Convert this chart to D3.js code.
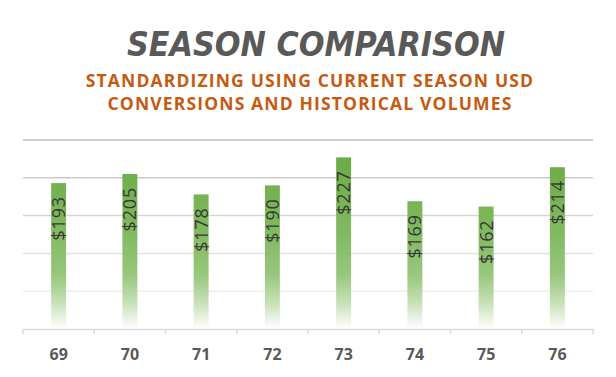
<!DOCTYPE html>
<html><head><meta charset="utf-8">
<script src="https://cdn.jsdelivr.net/npm/d3@7"></script>
<style>body{margin:0;background:#fff}svg{display:block}</style>
</head><body>
<svg id="c" width="616" height="377"></svg>
<script>
const categories = ["69","70","71","72","73","74","75","76"];
const values = [193,205,178,190,227,169,162,214];
const labels = ["$193","$205","$178","$190","$227","$169","$162","$214"];
const yTicks = [50,100,150,200,250];
const title = "SEASON COMPARISON";
const subtitle = ["STANDARDIZING USING CURRENT SEASON USD","CONVERSIONS AND HISTORICAL VOLUMES"];

const svg = d3.select("#c");
const x = d3.scaleBand().domain(categories).range([23, 593]).paddingInner(0.79).paddingOuter(0.395);
const y = d3.scaleLinear().domain([0, 250]).range([329, 140]);

const defs = svg.append("defs");
const g = defs.append("linearGradient").attr("id","bg")
  .attr("gradientUnits","userSpaceOnUse").attr("x1",0).attr("x2",0).attr("y1",150).attr("y2",329);
[[0,"#6aaa44"],[0.45,"#80b95f"],[0.7,"#98c77d"],[0.85,"#c6e0b6"],[1,"#ffffff"]].forEach(([o,c])=>
  g.append("stop").attr("offset",o).attr("stop-color",c));

// gridlines
const gridCol = d3.scaleLinear().domain([50,250]).range(["#eeeeee","#bdbdbd"]);
svg.append("g").selectAll("line").data(yTicks).join("line")
  .attr("x1",23).attr("x2",593).attr("y1",d=>y(d)).attr("y2",d=>y(d))
  .attr("stroke",d=>gridCol(d)).attr("stroke-width",1.5);

// bars
svg.append("g").selectAll("rect").data(values).join("rect")
  .attr("x",(d,i)=>x(categories[i])).attr("width",x.bandwidth())
  .attr("y",d=>y(d)).attr("height",d=>y(0)-y(d)).attr("fill","url(#bg)");

// axis
const ax = svg.append("g").attr("transform","translate(0,329)")
  .call(d3.axisBottom(x).tickSize(0));
ax.select(".domain").attr("stroke","#d9d9d9").attr("stroke-width",1.5);
ax.selectAll("text").attr("y",31).attr("dy",0).attr("font-family","'Open Sans'").attr("font-weight","bold")
  .attr("font-size",16).attr("fill","#595959");
const bounds = categories.map(c=>x(c)-x.step()*x.paddingInner()/2).concat([593]);
bounds[0]=23;
ax.append("g").selectAll("line").data(bounds).join("line")
  .attr("x1",d=>d).attr("x2",d=>d).attr("y1",0).attr("y2",5).attr("stroke","#d9d9d9").attr("stroke-width",1.5);

// labels
svg.append("g").selectAll("text").data(values).join("text")
  .attr("transform",(d,i)=>`translate(${x(categories[i])+x.bandwidth()/2},${y(d)+13}) rotate(-90)`)
  .attr("text-anchor","end").attr("dy","0.36em")
  .attr("font-family","'Open Sans'").attr("font-size",18).attr("font-weight",500)
  .attr("letter-spacing",0.8).attr("fill","#383838")
  .text((d,i)=>labels[i]);

// title
svg.append("text").attr("x",316).attr("y",56).attr("text-anchor","middle")
  .attr("font-family","'DejaVu Sans'").attr("font-weight","bold").attr("font-style","italic")
  .attr("font-size",34).attr("fill","#595959")
  .attr("textLength",378).attr("lengthAdjust","spacingAndGlyphs").text(title);
svg.append("g").selectAll("text").data(subtitle).join("text")
  .attr("x",310).attr("y",(d,i)=>87+i*23).attr("text-anchor","middle")
  .attr("font-family","'Open Sans'").attr("font-weight","bold").attr("font-size",17.5)
  .attr("letter-spacing",1.15).attr("fill","#c55a11").text(d=>d);
</script>
</body></html>
